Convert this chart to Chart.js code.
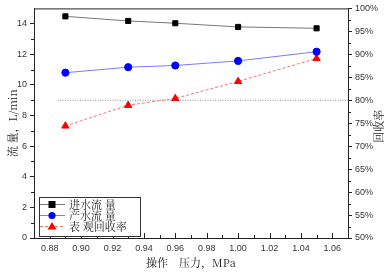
<!DOCTYPE html>
<html>
<head>
<meta charset="utf-8">
<script src="https://cdn.jsdelivr.net/npm/chart.js@4/dist/chart.umd.min.js"></script>
<style>
html,body{margin:0;padding:0;background:#fff;}
#wrap{width:390px;height:273px;}
</style>
</head>
<body>
<div id="wrap"><canvas id="c" width="390" height="273"></canvas></div>
<script>
// ---- data ----
const pressure = [0.89, 0.93, 0.96, 1.00, 1.05];
const feedFlow = [14.48, 14.18, 14.03, 13.79, 13.70];
const productFlow = [10.80, 11.16, 11.27, 11.57, 12.17];
const recovery = [74.4, 78.9, 80.4, 84.1, 89.1];
const refLineX = [0.885, 1.07];
const refLineY = [9, 9];
const xTicks = [0.88, 0.90, 0.92, 0.94, 0.96, 0.98, 1.00, 1.02, 1.04, 1.06];
const yTicks = [0, 2, 4, 6, 8, 10, 12, 14];
const y2Ticks = [50, 55, 60, 65, 70, 75, 80, 85, 90, 95, 100];
const seriesLabels = ['进水流 量', '产水流 量', '表 观回收率'];
const xTitle = '操作　压力，MPa';
const yTitle = '流 量，L/min';
const y2Title = '回收率';

const cjk = '"Noto Serif CJK SC","Noto Sans CJK SC","Noto Sans CJK JP",serif';
const tickFont = {family: '"Liberation Sans", Arial, sans-serif', size: 9};

const pts = (xs, ys) => xs.map((x, i) => ({x: x, y: ys[i]}));

const minorTicks = {
  id: 'minorTicks',
  afterDraw(chart) {
    const ctx = chart.ctx, a = chart.chartArea;
    const x = chart.scales.x, y = chart.scales.y, y2 = chart.scales.y2;
    ctx.save();
    ctx.strokeStyle = '#222';
    ctx.lineWidth = 1;
    ctx.strokeRect(a.left + 0.5, a.top + 0.5, a.right - a.left, a.bottom - a.top);
    ctx.beginPath();
    for (let v = 0.88; v <= 1.065; v += 0.01) {
      const px = Math.round(x.getPixelForValue(v)) + 0.5;
      const major = Math.abs(Math.round(v * 100) % 2) === 0;
      ctx.moveTo(px, a.bottom);
      ctx.lineTo(px, a.bottom - (major ? 5 : 3));
    }
    for (let v = 1; v < 15; v += 2) {
      const py = Math.round(y.getPixelForValue(v)) + 0.5;
      ctx.moveTo(a.left, py);
      ctx.lineTo(a.left - 3, py);
    }
    for (let v = 52.5; v < 100; v += 5) {
      const py = Math.round(y2.getPixelForValue(v)) + 0.5;
      ctx.moveTo(a.right, py);
      ctx.lineTo(a.right + 3, py);
    }
    ctx.stroke();
    ctx.fillStyle = '#222';
    ctx.font = '11px ' + cjk;
    ctx.textAlign = 'center';
    ctx.textBaseline = 'middle';
    ctx.translate(379, (a.top + a.bottom) / 2 + 3);
    ctx.rotate(-Math.PI / 2);
    ctx.fillText(y2Title, 0, 0);
    ctx.restore();
  }
};

const boxLegend = {
  id: 'boxLegend',
  afterDraw(chart) {
    const ctx = chart.ctx, a = chart.chartArea;
    const bx = a.left + 5, by = a.bottom - 41, bw = 101, bh = 39;
    ctx.save();
    ctx.fillStyle = '#fff';
    ctx.fillRect(bx, by, bw, bh);
    ctx.strokeStyle = '#333';
    ctx.lineWidth = 1;
    ctx.strokeRect(bx + 0.5, by + 0.5, bw, bh);
    for (let i = 0; i < 3; i++) {
      const ds = chart.data.datasets[i];
      const cy = by + 7 + i * 11;
      ctx.beginPath();
      ctx.strokeStyle = ds.borderColor;
      ctx.lineWidth = 1;
      ctx.setLineDash(ds.borderDash || []);
      ctx.moveTo(bx + 1, cy + 0.5);
      ctx.lineTo(bx + 26, cy + 0.5);
      ctx.stroke();
      ctx.setLineDash([]);
      const mx = bx + 13;
      ctx.fillStyle = ds.pointBackgroundColor;
      ctx.beginPath();
      if (ds.pointStyle === 'rect') {
        ctx.rect(mx - 3.5, cy - 3, 7, 7);
      } else if (ds.pointStyle === 'circle') {
        ctx.arc(mx, cy + 0.5, 3.6, 0, Math.PI * 2);
      } else {
        ctx.moveTo(mx, cy - 4);
        ctx.lineTo(mx + 4.5, cy + 3.5);
        ctx.lineTo(mx - 4.5, cy + 3.5);
        ctx.closePath();
      }
      ctx.fill();
      ctx.fillStyle = '#222';
      ctx.font = '11px ' + cjk;
      ctx.textAlign = 'left';
      ctx.textBaseline = 'middle';
      ctx.fillText(ds.label, bx + 30, cy + 1);
    }
    ctx.restore();
  }
};

new Chart(document.getElementById('c'), {
  type: 'line',
  data: {
    datasets: [
      {
        label: seriesLabels[0], data: pts(pressure, feedFlow), yAxisID: 'y',
        borderColor: '#777', borderWidth: 1, pointStyle: 'rect', pointRadius: 3.6,
        pointBackgroundColor: '#000', pointBorderColor: '#000'
      },
      {
        label: seriesLabels[1], data: pts(pressure, productFlow), yAxisID: 'y',
        borderColor: '#7a7aff', borderWidth: 1, pointStyle: 'circle', pointRadius: 3.6,
        pointBackgroundColor: '#0000ff', pointBorderColor: '#0000ff'
      },
      {
        label: seriesLabels[2], data: pts(pressure, recovery), yAxisID: 'y2',
        borderColor: '#ff7070', borderWidth: 1, borderDash: [3, 2], pointStyle: 'triangle', pointRadius: 4.2,
        pointBackgroundColor: '#ff0000', pointBorderColor: '#ff0000'
      },
      {
        label: 'ref', data: pts(refLineX, refLineY), yAxisID: 'y',
        borderColor: '#888', borderWidth: 1, borderDash: [1, 1.5], pointRadius: 0
      }
    ]
  },
  options: {
    responsive: false,
    animation: false,
    events: [],
    layout: {padding: {top: 6, left: 0, right: 0, bottom: 0}},
    plugins: {legend: {display: false}, tooltip: {enabled: false}},
    scales: {
      x: {
        type: 'linear', min: 0.87, max: 1.07,
        afterBuildTicks: s => { s.ticks = xTicks.map(v => ({value: v})); },
        afterFit: s => { s.height = 35; },
        grid: {display: false, drawTicks: false, tickLength: 0},
        border: {display: true, color: '#222'},
        ticks: {font: tickFont, color: '#333', padding: 5, maxRotation: 0, autoSkip: false,
          callback: v => Number(v).toFixed(2)},
        title: {display: true, text: xTitle, font: {family: cjk, size: 11}, color: '#222', padding: {top: 3, bottom: 4}}
      },
      y: {
        position: 'left', min: 0, max: 15,
        afterBuildTicks: s => { s.ticks = yTicks.map(v => ({value: v})); },
        afterFit: s => { s.width = 34; },
        grid: {display: true, drawOnChartArea: false, drawTicks: true, tickLength: 4, color: '#222'},
        border: {display: true, color: '#222'},
        ticks: {font: tickFont, color: '#333', padding: 3, autoSkip: false},
        title: {display: true, text: yTitle, font: {family: cjk, size: 11}, color: '#222', padding: {top: 6, bottom: 0}}
      },
      y2: {
        position: 'right', min: 50, max: 100,
        afterBuildTicks: s => { s.ticks = y2Ticks.map(v => ({value: v})); },
        afterFit: s => { s.width = 42; },
        grid: {display: true, drawOnChartArea: false, drawTicks: true, tickLength: 4, color: '#222'},
        border: {display: true, color: '#222'},
        ticks: {font: tickFont, color: '#333', padding: 3, autoSkip: false, callback: v => v + '%'}
      }
    }
  },
  plugins: [minorTicks, boxLegend]
});
</script>
</body>
</html>
